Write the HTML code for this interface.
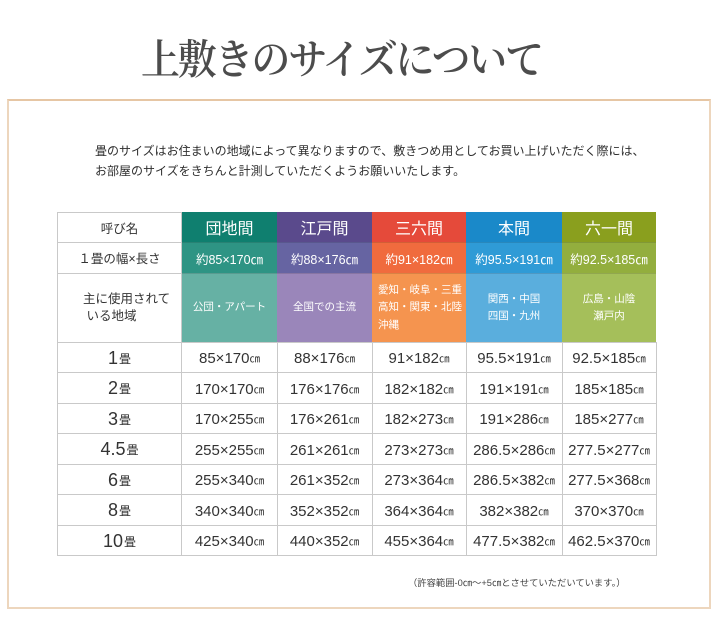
<!DOCTYPE html>
<html><head><meta charset="utf-8">
<style>
html,body{margin:0;padding:0;background:#fff;}
body{width:720px;height:621px;position:relative;overflow:hidden;font-family:"Liberation Sans","Noto Sans CJK JP",sans-serif;color:#333;}
.t{position:absolute;left:141px;top:40px;font-family:"Liberation Serif","Noto Serif CJK SC",serif;font-size:39px;line-height:39px;letter-spacing:-2.2px;color:#4c4c4c;white-space:nowrap;font-weight:600;transform:scaleY(1.06);transform-origin:left top;}
.frame{position:absolute;left:7px;top:99px;width:704px;height:510px;box-sizing:border-box;border:2px solid #edd6bd;border-top-color:#e6c6a4;}
.p{position:absolute;left:95px;top:141px;font-size:12px;line-height:20px;color:#2e2e2e;white-space:nowrap;}
.c{position:absolute;display:flex;align-items:center;justify-content:center;box-sizing:border-box;white-space:nowrap;text-align:center;}
.hl{position:absolute;background:#c9c9c9;}
.w{color:#fff;}
.h1{font-size:16px;}
.h2{font-size:12.5px;}
.h3{font-size:10.5px;line-height:17.5px;}
.b{font-size:15px;padding-top:3px;color:#333;}
.b small{font-size:10.5px;font-family:"Noto Sans CJK JP",sans-serif;}
.r{font-size:18px;padding-top:2px;color:#333;}
.r small{font-size:12px;font-family:"Noto Sans CJK JP",sans-serif;margin-left:1px;}
.note{position:absolute;left:408px;top:576px;font-size:9.3px;line-height:14px;color:#444;white-space:nowrap;}
</style></head><body>
<div class="t">上敷きのサイズについて</div>
<div class="frame"></div>
<div class="p">畳のサイズはお住まいの地域によって異なりますので、敷きつめ用としてお買い上げいただく際には、<br>お部屋のサイズをきちんと計測していただくようお願いいたします。</div>

<!-- header row -->
<div class="c" style="left:57px;top:212px;width:125px;height:30px;font-size:12.5px;">呼び名</div>
<div class="c w h1" style="left:182px;top:212px;width:95px;height:30px;background:#0f7f6f;">団地間</div>
<div class="c w h1" style="left:277px;top:212px;width:95px;height:30px;background:#5a4a8c;">江戸間</div>
<div class="c w h1" style="left:372px;top:212px;width:94px;height:30px;background:#e54a3a;">三六間</div>
<div class="c w h1" style="left:466px;top:212px;width:96px;height:30px;background:#1a89c9;">本間</div>
<div class="c w h1" style="left:562px;top:212px;width:94px;height:30px;background:#8a9f1e;">六一間</div>

<!-- row 2 -->
<div class="c" style="left:57px;top:242px;width:125px;height:31px;font-size:12.5px;">１畳の幅×長さ</div>
<div class="c w h2" style="left:182px;top:242px;width:95px;height:31px;background:#2e9484;border-top:1px solid rgba(0,0,0,.12);">約85×170㎝</div>
<div class="c w h2" style="left:277px;top:242px;width:95px;height:31px;background:#6664a2;border-top:1px solid rgba(0,0,0,.12);">約88×176㎝</div>
<div class="c w h2" style="left:372px;top:242px;width:94px;height:31px;background:#f06b3e;border-top:1px solid rgba(0,0,0,.12);">約91×182㎝</div>
<div class="c w h2" style="left:466px;top:242px;width:96px;height:31px;background:#2f9bd6;border-top:1px solid rgba(0,0,0,.12);">約95.5×191㎝</div>
<div class="c w h2" style="left:562px;top:242px;width:94px;height:31px;background:#93ae3e;border-top:1px solid rgba(0,0,0,.12);">約92.5×185㎝</div>

<!-- row 3 -->
<div class="c" style="left:57px;top:273px;width:125px;height:69px;font-size:12.5px;line-height:17px;justify-content:flex-start;padding-left:26px;text-align:left;">主に使用されて<br>&nbsp;いる地域</div>
<div class="c w h3" style="left:182px;top:273px;width:95px;height:69px;background:#66b1a4;border-top:1px solid rgba(0,0,0,.12);">公団・アパート</div>
<div class="c w h3" style="left:277px;top:273px;width:95px;height:69px;background:#9a86ba;border-top:1px solid rgba(0,0,0,.12);">全国での主流</div>
<div class="c w h3" style="left:372px;top:273px;width:94px;height:69px;background:#f5944f;border-top:1px solid rgba(0,0,0,.12);justify-content:flex-start;padding-left:6px;text-align:left;">愛知・岐阜・三重<br>高知・関東・北陸<br>沖縄</div>
<div class="c w h3" style="left:466px;top:273px;width:96px;height:69px;background:#5aaedd;border-top:1px solid rgba(0,0,0,.12);">関西・中国<br>四国・九州</div>
<div class="c w h3" style="left:562px;top:273px;width:94px;height:69px;background:#a5bf5a;border-top:1px solid rgba(0,0,0,.12);">広島・山陰<br>瀬戸内</div>

<!-- grid lines -->
<div class="hl" style="left:57px;top:212px;width:125px;height:1px;"></div>
<div class="hl" style="left:57px;top:242px;width:125px;height:1px;"></div>
<div class="hl" style="left:57px;top:273px;width:125px;height:1px;"></div>
<div class="hl" style="left:57px;top:212px;width:1px;height:344px;"></div>
<div class="hl" style="left:181px;top:212px;width:1px;height:344px;"></div>
<div class="hl" style="left:277px;top:342px;width:1px;height:214px;"></div>
<div class="hl" style="left:372px;top:342px;width:1px;height:214px;"></div>
<div class="hl" style="left:466px;top:342px;width:1px;height:214px;"></div>
<div class="hl" style="left:562px;top:342px;width:1px;height:214px;"></div>
<div class="hl" style="left:656px;top:342px;width:1px;height:214px;"></div>
<div class="hl" style="left:57px;top:342px;width:600px;height:1px;"></div>
<div class="hl" style="left:57px;top:372px;width:600px;height:1px;"></div>
<div class="hl" style="left:57px;top:403px;width:600px;height:1px;"></div>
<div class="hl" style="left:57px;top:433px;width:600px;height:1px;"></div>
<div class="hl" style="left:57px;top:464px;width:600px;height:1px;"></div>
<div class="hl" style="left:57px;top:494px;width:600px;height:1px;"></div>
<div class="hl" style="left:57px;top:525px;width:600px;height:1px;"></div>
<div class="hl" style="left:57px;top:555px;width:600px;height:1px;"></div>

<!-- body rows -->
<div class="c r" style="left:57px;top:342px;width:125px;height:30px;">1<small>畳</small></div>
<div class="c b" style="left:182px;top:342px;width:95px;height:30px;">85×170<small>㎝</small></div>
<div class="c b" style="left:277px;top:342px;width:95px;height:30px;">88×176<small>㎝</small></div>
<div class="c b" style="left:372px;top:342px;width:94px;height:30px;">91×182<small>㎝</small></div>
<div class="c b" style="left:466px;top:342px;width:96px;height:30px;">95.5×191<small>㎝</small></div>
<div class="c b" style="left:562px;top:342px;width:94px;height:30px;">92.5×185<small>㎝</small></div>

<div class="c r" style="left:57px;top:372px;width:125px;height:31px;">2<small>畳</small></div>
<div class="c b" style="left:182px;top:372px;width:95px;height:31px;">170×170<small>㎝</small></div>
<div class="c b" style="left:277px;top:372px;width:95px;height:31px;">176×176<small>㎝</small></div>
<div class="c b" style="left:372px;top:372px;width:94px;height:31px;">182×182<small>㎝</small></div>
<div class="c b" style="left:466px;top:372px;width:96px;height:31px;">191×191<small>㎝</small></div>
<div class="c b" style="left:562px;top:372px;width:94px;height:31px;">185×185<small>㎝</small></div>

<div class="c r" style="left:57px;top:403px;width:125px;height:30px;">3<small>畳</small></div>
<div class="c b" style="left:182px;top:403px;width:95px;height:30px;">170×255<small>㎝</small></div>
<div class="c b" style="left:277px;top:403px;width:95px;height:30px;">176×261<small>㎝</small></div>
<div class="c b" style="left:372px;top:403px;width:94px;height:30px;">182×273<small>㎝</small></div>
<div class="c b" style="left:466px;top:403px;width:96px;height:30px;">191×286<small>㎝</small></div>
<div class="c b" style="left:562px;top:403px;width:94px;height:30px;">185×277<small>㎝</small></div>

<div class="c r" style="left:57px;top:433px;width:125px;height:31px;">4.5<small>畳</small></div>
<div class="c b" style="left:182px;top:433px;width:95px;height:31px;">255×255<small>㎝</small></div>
<div class="c b" style="left:277px;top:433px;width:95px;height:31px;">261×261<small>㎝</small></div>
<div class="c b" style="left:372px;top:433px;width:94px;height:31px;">273×273<small>㎝</small></div>
<div class="c b" style="left:466px;top:433px;width:96px;height:31px;">286.5×286<small>㎝</small></div>
<div class="c b" style="left:562px;top:433px;width:94px;height:31px;">277.5×277<small>㎝</small></div>

<div class="c r" style="left:57px;top:464px;width:125px;height:30px;">6<small>畳</small></div>
<div class="c b" style="left:182px;top:464px;width:95px;height:30px;">255×340<small>㎝</small></div>
<div class="c b" style="left:277px;top:464px;width:95px;height:30px;">261×352<small>㎝</small></div>
<div class="c b" style="left:372px;top:464px;width:94px;height:30px;">273×364<small>㎝</small></div>
<div class="c b" style="left:466px;top:464px;width:96px;height:30px;">286.5×382<small>㎝</small></div>
<div class="c b" style="left:562px;top:464px;width:94px;height:30px;">277.5×368<small>㎝</small></div>

<div class="c r" style="left:57px;top:494px;width:125px;height:31px;">8<small>畳</small></div>
<div class="c b" style="left:182px;top:494px;width:95px;height:31px;">340×340<small>㎝</small></div>
<div class="c b" style="left:277px;top:494px;width:95px;height:31px;">352×352<small>㎝</small></div>
<div class="c b" style="left:372px;top:494px;width:94px;height:31px;">364×364<small>㎝</small></div>
<div class="c b" style="left:466px;top:494px;width:96px;height:31px;">382×382<small>㎝</small></div>
<div class="c b" style="left:562px;top:494px;width:94px;height:31px;">370×370<small>㎝</small></div>

<div class="c r" style="left:57px;top:525px;width:125px;height:30px;">10<small>畳</small></div>
<div class="c b" style="left:182px;top:525px;width:95px;height:30px;">425×340<small>㎝</small></div>
<div class="c b" style="left:277px;top:525px;width:95px;height:30px;">440×352<small>㎝</small></div>
<div class="c b" style="left:372px;top:525px;width:94px;height:30px;">455×364<small>㎝</small></div>
<div class="c b" style="left:466px;top:525px;width:96px;height:30px;">477.5×382<small>㎝</small></div>
<div class="c b" style="left:562px;top:525px;width:94px;height:30px;">462.5×370<small>㎝</small></div>

<div class="note">（許容範囲-0㎝～+5㎝とさせていただいています。）</div>
</body></html>
